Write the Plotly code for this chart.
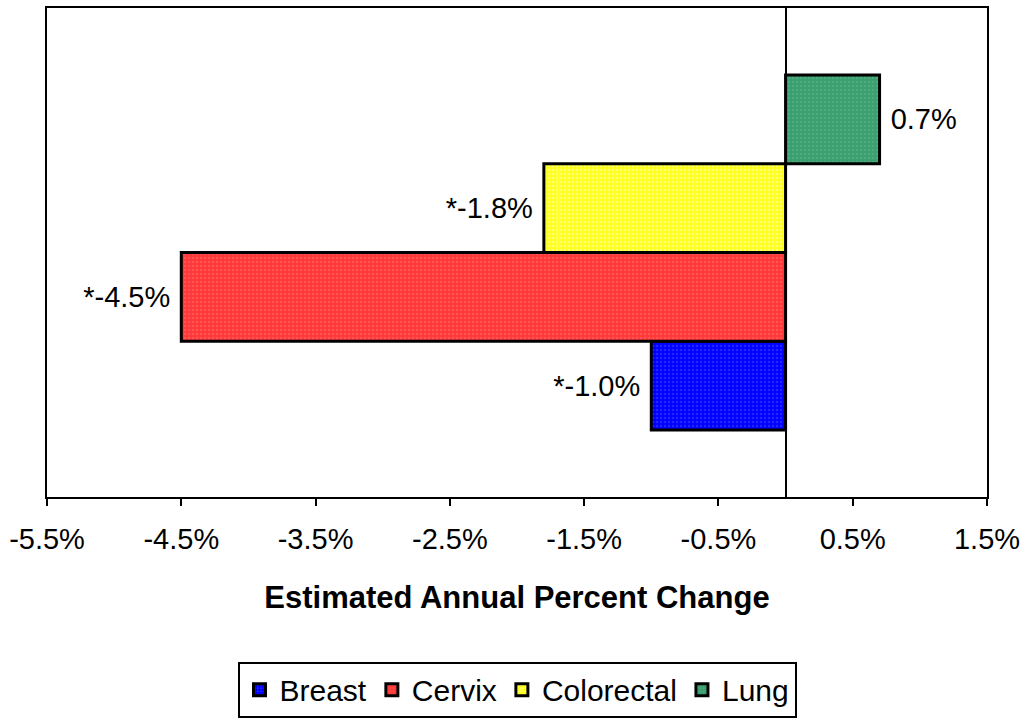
import plotly.graph_objects as go

# Estimated annual percent change by cancer site
sites = ["Breast", "Cervix", "Colorectal", "Lung"]
apc = [-1.0, -4.5, -1.8, 0.7]
significant = [True, True, True, False]

fill_colors = ["#0000FF", "#FF3838", "#FFFF20", "#3A9E6E"]
dot_colors = ["#4A4AFF", "#FF7070", "#FFFFC8", "#62B88C"]

tick_values = [-5.5, -4.5, -3.5, -2.5, -1.5, -0.5, 0.5, 1.5]
tick_labels = ["-5.5%", "-4.5%", "-3.5%", "-2.5%", "-1.5%", "-0.5%", "0.5%", "1.5%"]

FONT = "Arial, 'Liberation Sans', sans-serif"
NBSP = "\u00a0"

fig = go.Figure()
for name, v, sig, fc, dc in zip(sites, apc, significant, fill_colors, dot_colors):
    label = ("*" if sig else "") + f"{v:.1f}%"
    label = label + NBSP if v < 0 else NBSP + label
    fig.add_trace(go.Bar(
        name=name,
        x=[v],
        y=[0],
        orientation="h",
        marker=dict(
            color=fc,
            line=dict(color="black", width=3),
            pattern=dict(shape=".", fgcolor=dc, bgcolor=fc, size=4, solidity=0.3),
        ),
        text=[label],
        textposition="outside",
        textfont=dict(family=FONT, size=29, color="black"),
        constraintext="none",
        cliponaxis=False,
    ))

fig.update_layout(
    width=1026,
    height=721,
    margin=dict(l=47, r=39, t=8, b=224, autoexpand=False),
    paper_bgcolor="white",
    plot_bgcolor="white",
    barmode="group",
    bargap=0.274,
    bargroupgap=0,
    font=dict(family=FONT, size=29, color="black"),
    showlegend=True,
    legend=dict(
        orientation="h",
        x=0.5,
        xanchor="center",
        y=-0.337,
        yanchor="top",
        bordercolor="black",
        borderwidth=2,
        font=dict(family=FONT, size=30, color="black"),
        traceorder="normal",
    ),
    xaxis=dict(
        range=[-5.5, 1.5],
        tickvals=tick_values,
        ticktext=tick_labels,
        ticks="outside",
        ticklen=7,
        tickwidth=2,
        tickcolor="black",
        ticklabelstandoff=8,
        tickfont=dict(family=FONT, size=29, color="black"),
        showline=True,
        linecolor="black",
        linewidth=2,
        mirror=True,
        showgrid=False,
        zeroline=True,
        zerolinecolor="black",
        zerolinewidth=2,
        title=dict(
            text="<b>Estimated Annual Percent Change</b>",
            font=dict(family=FONT, size=31, color="black"),
            standoff=33,
        ),
    ),
    yaxis=dict(
        range=[-0.5, 0.5],
        showticklabels=False,
        ticks="",
        showline=True,
        linecolor="black",
        linewidth=2,
        mirror=True,
        showgrid=False,
        zeroline=False,
    ),
)

fig.write_html("out.html")
